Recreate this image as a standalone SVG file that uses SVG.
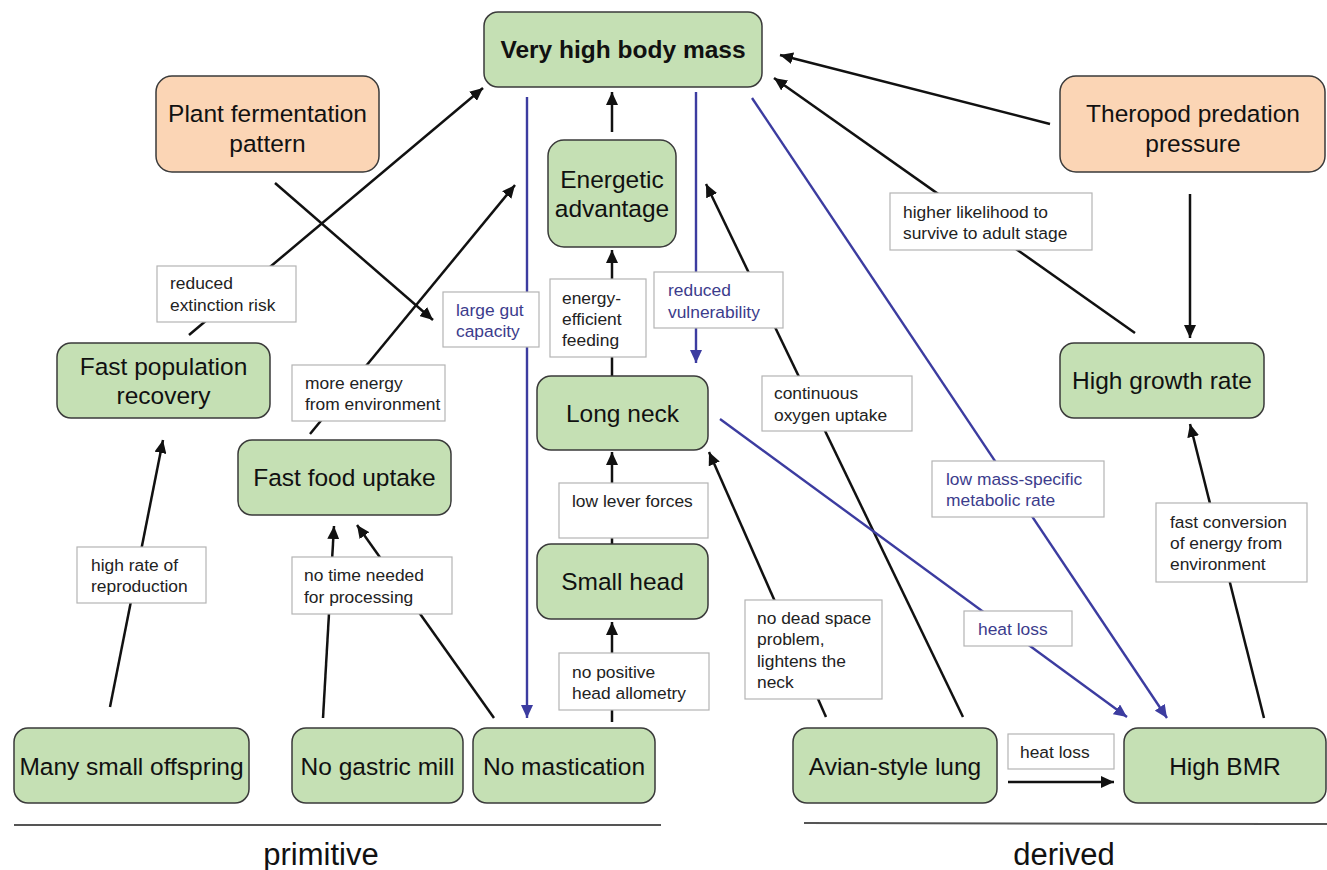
<svg xmlns="http://www.w3.org/2000/svg" width="1327" height="870" viewBox="0 0 1327 870">
<defs>
<style>
.n rect{fill:#c5e0b4;stroke:#3a3a3a;stroke-width:1.5}
.o rect{fill:#fbd5b5;stroke:#3a3a3a;stroke-width:1.5}
.n text,.o text{font-family:"Liberation Sans",Arial,sans-serif;font-size:24.5px;fill:#111;text-anchor:middle}
.b text{font-weight:bold}
.l rect{fill:#fff;stroke:#b4b4b4;stroke-width:1.2}
.l text{font-family:"Liberation Sans",Arial,sans-serif;font-size:17.4px;fill:#222}
.lb text{fill:#3c3c8c}
.k{stroke:#111;stroke-width:2.5;fill:none;marker-end:url(#ak)}
.u{stroke:#3c3ca0;stroke-width:2.4;fill:none;marker-end:url(#au)}
.axis{stroke:#555;stroke-width:2}
.cap{font-family:"Liberation Sans",Arial,sans-serif;font-size:31px;fill:#111;text-anchor:middle}
</style>
<marker id="ak" markerUnits="userSpaceOnUse" markerWidth="14" markerHeight="12" refX="13" refY="6" orient="auto"><path d="M0,0 L13,6 L0,12 z" fill="#111"/></marker>
<marker id="au" markerUnits="userSpaceOnUse" markerWidth="14" markerHeight="12" refX="13" refY="6" orient="auto"><path d="M0,0 L13,6 L0,12 z" fill="#3c3ca0"/></marker>
</defs>
<rect width="1327" height="870" fill="#fff"/>

<g id="connectors">
<line class="k" x1="189" y1="335" x2="483" y2="88"/>
<line class="k" x1="275" y1="183" x2="433" y2="320"/>
<line class="k" x1="310" y1="434" x2="515" y2="185"/>
<line class="u" x1="527" y1="97" x2="527" y2="718"/>
<line class="k" x1="612" y1="132" x2="612" y2="92"/>
<line class="k" x1="612" y1="376" x2="612" y2="250"/>
<line class="u" x1="696" y1="92" x2="696" y2="363"/>
<line class="u" x1="752" y1="98" x2="1167" y2="718"/>
<line class="k" x1="1050" y1="124" x2="780" y2="55"/>
<line class="k" x1="1135" y1="333" x2="774" y2="78"/>
<line class="k" x1="1190" y1="194" x2="1190" y2="338"/>
<line class="k" x1="1264" y1="718" x2="1190" y2="424"/>
<line class="k" x1="963" y1="717" x2="706" y2="184"/>
<line class="k" x1="826" y1="717" x2="709" y2="452"/>
<line class="u" x1="720" y1="419" x2="1127" y2="717"/>
<line class="k" x1="612" y1="544" x2="612" y2="452"/>
<line class="k" x1="612" y1="722" x2="612" y2="622"/>
<line class="k" x1="494" y1="718" x2="357" y2="525"/>
<line class="k" x1="323" y1="718" x2="334" y2="526"/>
<line class="k" x1="110" y1="707" x2="163" y2="440"/>
<line class="k" x1="1008" y1="782" x2="1114" y2="782"/>
</g>

<g id="labels">
<g class="l" id="lbl-extinction"><rect x="157" y="266" width="139" height="56"/><text x="170" y="289">reduced</text><text x="170" y="311">extinction risk</text></g>
<g class="l" id="lbl-energy"><rect x="292" y="365" width="153" height="56"/><text x="305" y="389">more energy</text><text x="305" y="410">from environment</text></g>
<g class="l lb" id="lbl-gut"><rect x="443" y="292" width="96" height="55"/><text x="456" y="316">large gut</text><text x="456" y="337">capacity</text></g>
<g class="l" id="lbl-feeding"><rect x="550" y="279" width="96" height="78"/><text x="562" y="304">energy-</text><text x="562" y="325">efficient</text><text x="562" y="346">feeding</text></g>
<g class="l lb" id="lbl-vuln"><rect x="654" y="272" width="129" height="56"/><text x="668" y="296">reduced</text><text x="668" y="318">vulnerability</text></g>
<g class="l" id="lbl-oxygen"><rect x="762" y="376" width="150" height="55"/><text x="774" y="399">continuous</text><text x="774" y="421">oxygen uptake</text></g>
<g class="l" id="lbl-survive"><rect x="890" y="193" width="202" height="57"/><text x="903" y="218">higher likelihood to</text><text x="903" y="239">survive to adult stage</text></g>
<g class="l lb" id="lbl-metabolic"><rect x="932" y="461" width="172" height="56"/><text x="946" y="485">low mass-specific</text><text x="946" y="506">metabolic rate</text></g>
<g class="l" id="lbl-conversion"><rect x="1156" y="503" width="151" height="79"/><text x="1170" y="528">fast conversion</text><text x="1170" y="549">of energy from</text><text x="1170" y="570">environment</text></g>
<g class="l lb" id="lbl-heat1"><rect x="964" y="611" width="108" height="35"/><text x="978" y="635">heat loss</text></g>
<g class="l" id="lbl-heat2"><rect x="1008" y="734" width="106" height="35"/><text x="1020" y="758">heat loss</text></g>
<g class="l" id="lbl-repro"><rect x="77" y="547" width="129" height="56"/><text x="91" y="571">high rate of</text><text x="91" y="592">reproduction</text></g>
<g class="l" id="lbl-processing"><rect x="292" y="557" width="160" height="57"/><text x="304" y="581">no time needed</text><text x="304" y="603">for processing</text></g>
<g class="l" id="lbl-lever"><rect x="559" y="483" width="149" height="55"/><text x="572" y="507">low lever forces</text></g>
<g class="l" id="lbl-allometry"><rect x="559" y="653" width="150" height="57"/><text x="572" y="678">no positive</text><text x="572" y="699">head allometry</text></g>
<g class="l" id="lbl-deadspace"><rect x="745" y="600" width="137" height="99"/><text x="757" y="624">no dead space</text><text x="757" y="645">problem,</text><text x="757" y="667">lightens the</text><text x="757" y="688">neck</text></g>
</g>

<g id="n-mass" class="n b"><rect x="484" y="12" width="278" height="75" rx="14"/><text x="623" y="58">Very high body mass</text></g>
<g id="n-plant" class="o"><rect x="156" y="76" width="223" height="96" rx="16"/><text x="267.5" y="122">Plant fermentation</text><text x="267.5" y="152">pattern</text></g>
<g id="n-theropod" class="o"><rect x="1060" y="76" width="265" height="96" rx="16"/><text x="1193" y="122">Theropod predation</text><text x="1193" y="152">pressure</text></g>
<g id="n-energetic" class="n"><rect x="548" y="140" width="128" height="107" rx="16"/><text x="612" y="188">Energetic</text><text x="612" y="217">advantage</text></g>
<g id="n-popul" class="n"><rect x="57" y="343" width="213" height="75" rx="14"/><text x="163.5" y="375">Fast population</text><text x="163.5" y="404">recovery</text></g>
<g id="n-growth" class="n"><rect x="1060" y="343" width="204" height="75" rx="14"/><text x="1162" y="389">High growth rate</text></g>
<g id="n-neck" class="n"><rect x="537" y="376" width="171" height="74" rx="14"/><text x="622.5" y="422">Long neck</text></g>
<g id="n-food" class="n"><rect x="238" y="440" width="213" height="75" rx="14"/><text x="344.5" y="486">Fast food uptake</text></g>
<g id="n-head" class="n"><rect x="537" y="544" width="171" height="75" rx="14"/><text x="622.5" y="590">Small head</text></g>
<g id="n-offspring" class="n"><rect x="14" y="728" width="235" height="75" rx="14"/><text x="131.5" y="775">Many small offspring</text></g>
<g id="n-gastric" class="n"><rect x="292" y="728" width="171" height="75" rx="14"/><text x="377.5" y="775">No gastric mill</text></g>
<g id="n-mast" class="n"><rect x="473" y="728" width="182" height="75" rx="14"/><text x="564" y="775">No mastication</text></g>
<g id="n-lung" class="n"><rect x="793" y="728" width="204" height="75" rx="14"/><text x="895" y="775">Avian-style lung</text></g>
<g id="n-bmr" class="n"><rect x="1124" y="728" width="202" height="75" rx="14"/><text x="1225" y="775">High BMR</text></g>

<g id="axes">
<line class="axis" x1="14" y1="825" x2="661" y2="825"/>
<line class="axis" x1="804" y1="823" x2="1327" y2="824"/>
<text class="cap" x="321" y="865">primitive</text>
<text class="cap" x="1064" y="865">derived</text>
</g>
</svg>
